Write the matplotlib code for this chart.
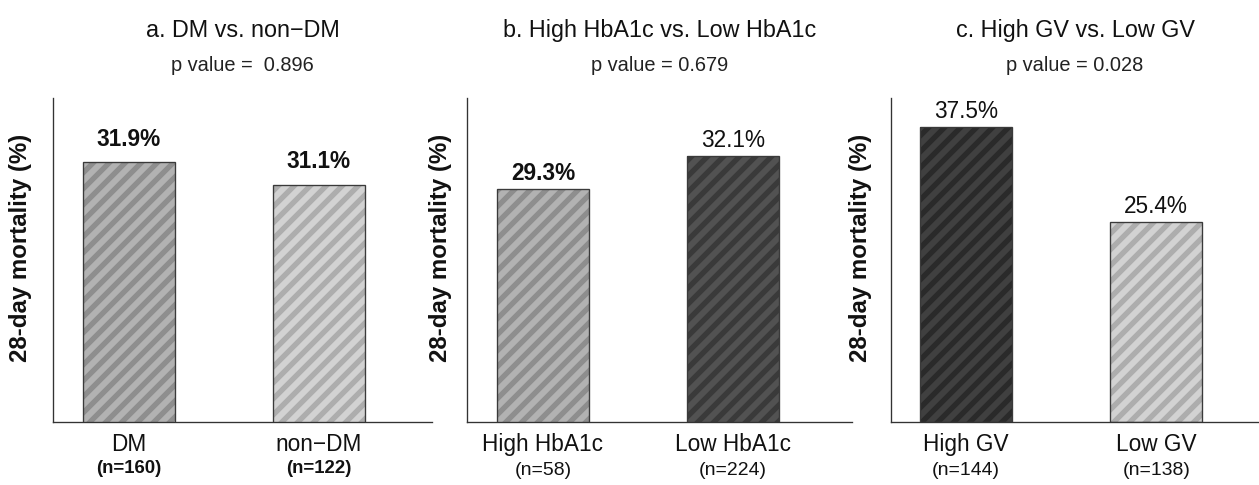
import matplotlib

matplotlib.use("Agg")
import matplotlib.pyplot as plt

# data
titles = ["a. DM vs. non\u2212DM", "b. High HbA1c vs. Low HbA1c", "c. High GV vs. Low GV"]
p_labels = ["p value =  0.896", "p value = 0.679", "p value = 0.028"]
categories = [["DM", "non\u2212DM"], ["High HbA1c", "Low HbA1c"], ["High GV", "Low GV"]]
group_n = [[160, 122], [58, 224], [144, 138]]
mortality = [[31.9, 31.1], [29.3, 32.1], [37.5, 25.4]]

# styling
plt.rcParams["font.family"] = ["Liberation Sans", "DejaVu Sans"]
plt.rcParams["hatch.linewidth"] = 4.0

MID = ("#b2b2b2", "#8e8e8e")
LIGHT = ("#d2d2d2", "#adadad")
DARK_B = ("#525252", "#3a3a3a")
DARK_C = ("#404040", "#2a2a2a")
bar_styles = [[MID, LIGHT], [MID, DARK_B], [DARK_C, LIGHT]]
ylims = [(22.6, 34.2), (9.33, 37.1), (0, 41.1)]
value_bold = [[True, True], [True, False], [False, False]]
n_bold = [True, False, False]
value_offset = [17, 12, 11.3]
axes_rect = [
    (53 / 1259, 0.1305, 379 / 1259, 0.667),
    (467 / 1259, 0.1305, 385 / 1259, 0.667),
    (891 / 1259, 0.1305, 368 / 1259, 0.667),
]
xlims = [(-0.4, 1.595), (-0.4, 1.627), (-0.395, 1.54)]
ylabel_x = [-0.055, -0.039, -0.052]
n_y = [-0.144, -0.150, -0.150]

fig = plt.figure(figsize=(1259 / 96, 485 / 96), dpi=96)

for i in range(3):
    ax = fig.add_axes(axes_rect[i])
    x = [0, 1]
    width = 0.484
    for j in range(2):
        face, stripe = bar_styles[i][j]
        ax.bar(x[j], mortality[i][j], width, color=face, edgecolor=stripe,
               hatch="//", linewidth=0, zorder=2)
    ax.bar(x, mortality[i], width, fill=False, edgecolor="#3a3a3a",
           linewidth=1.0, zorder=3)

    for j in range(2):
        ax.annotate(f"{mortality[i][j]:.1f}%", (x[j], mortality[i][j]),
                    xytext=(0, value_offset[i]), textcoords="offset points",
                    ha="center", va="center", fontsize=17,
                    fontweight="bold" if value_bold[i][j] else "normal",
                    color="#111111")
        ax.text(x[j], -0.072, categories[i][j], transform=ax.get_xaxis_transform(),
                ha="center", va="center", fontsize=17, color="#111111")
        ax.text(x[j], n_y[i], f"(n={group_n[i][j]})", transform=ax.get_xaxis_transform(),
                ha="center", va="center", fontsize=14 if n_bold[i] else 14.5,
                fontweight="bold" if n_bold[i] else "normal", color="#111111")

    ax.set_xlim(*xlims[i])
    ax.set_ylim(*ylims[i])
    ax.set_xticks([])
    ax.set_yticks([])
    for side in ["top", "right"]:
        ax.spines[side].set_visible(False)
    for side in ["left", "bottom"]:
        ax.spines[side].set_color("#333333")
        ax.spines[side].set_linewidth(1.0)

    ax.set_ylabel("28-day mortality (%)", fontsize=18, fontweight="bold", color="#111111")
    ax.yaxis.set_label_coords(ylabel_x[i], 0.537)

    ax.text(0.5, 1.21, titles[i], transform=ax.transAxes, ha="center", va="center",
            fontsize=17.5, color="#111111")
    ax.text(0.5, 1.102, p_labels[i], transform=ax.transAxes, ha="center", va="center",
            fontsize=15, color="#222222")

fig.savefig("out.png", dpi=96)
